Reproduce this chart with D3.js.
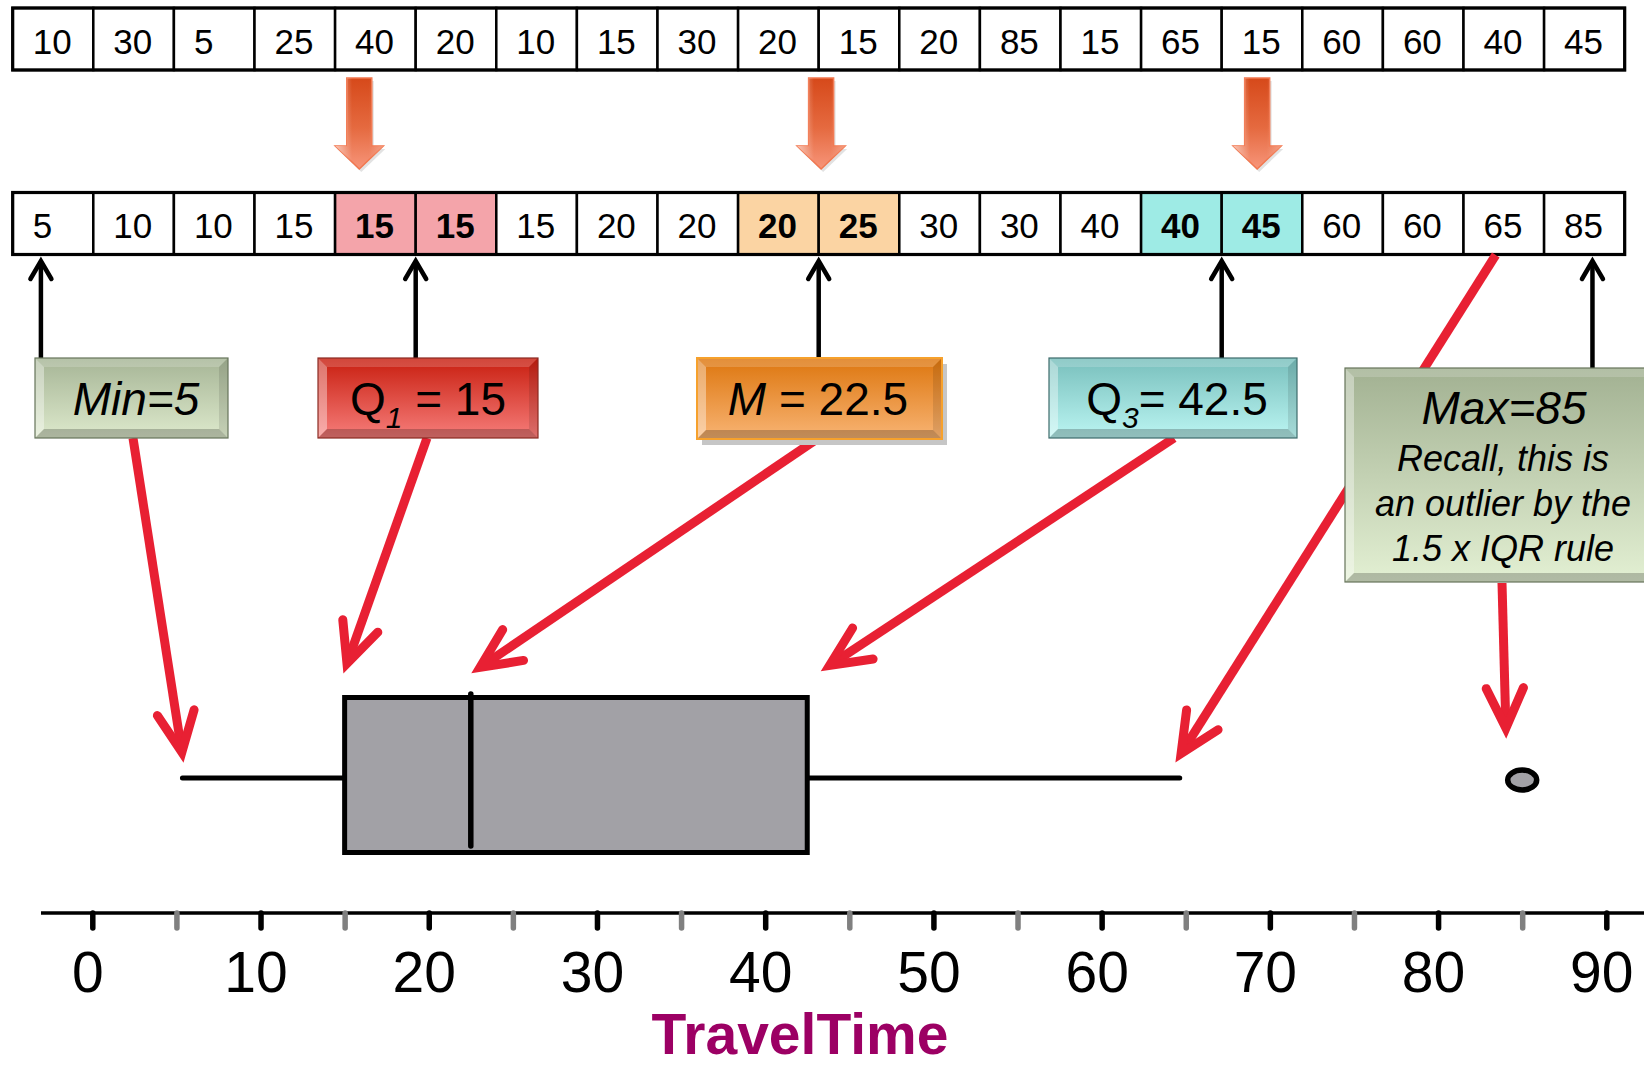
<!DOCTYPE html>
<html><head><meta charset="utf-8">
<script src="https://cdn.jsdelivr.net/npm/d3@7"></script>
<style>html,body{margin:0;padding:0;background:#fff;overflow:hidden}svg{display:block}</style>
</head><body>
<svg id="chart" width="1644" height="1066"></svg>
<script>
// ---------------- data ----------------
const travelTimes = [10,30,5,25,40,20,10,15,30,20,15,20,85,15,65,15,60,60,40,45];
const sortedTimes = [5,10,10,15,15,15,15,20,20,20,25,30,30,40,40,45,60,60,65,85];
const highlightPairs = [[4,5],[9,10],[14,15]];
const statNames = ["Min","Q1","M","Q3","Max"];
const statValues = [5,15,22.5,42.5,85];
const statRanks = [0.35,5,10,15,19.6];      // where each statistic sits in the ordered row (cell units)
const downArrowRanks = [4.3,10.03,15.44];   // orange arrows between the rows (cell units)
const whiskerHigh = 65;
const outliers = [85];
const majorTicks = [0,10,20,30,40,50,60,70,80,90];
const minorTicks = [5,15,25,35,45,55,65,75,85];
const axisTitle = "TravelTime";
const maxNote = ["Recall, this is","an outlier by the","1.5 x IQR rule"];

// ---------------- setup ----------------
const svg = d3.select("#chart");
const FONT = "'Liberation Sans', Arial, Helvetica, sans-serif";
const defs = svg.append("defs");

const cell = d3.scaleBand().domain(d3.range(travelTimes.length)).range([12.7, 1624.7]).padding(0);
const cw = cell.bandwidth();
const cellPos = r => cell.range()[0] + r * cw;
const x = d3.scaleLinear().domain([0, 90]).range([92.3, 1606.3]);

const hlColors = ["#f4a4aa", "#fbd4a3", "#9eebe5"];
function hlIndex(i){ return highlightPairs.findIndex(p => p.includes(i)); }

// ---------------- rows ----------------
function drawRow(values, y0, highlight){
  const g = svg.append("g");
  const h = 62;
  g.selectAll("rect.c").data(values).join("rect")
    .attr("x", (d,i) => cell(i)).attr("y", y0).attr("width", cw).attr("height", h)
    .attr("fill", (d,i) => { const k = highlight ? hlIndex(i) : -1; return k >= 0 ? hlColors[k] : "#fff"; })
    .attr("stroke", "#000").attr("stroke-width", 2.5);
  g.append("rect").attr("x", cell(0)).attr("y", y0).attr("width", cw*values.length).attr("height", h)
    .attr("fill", "none").attr("stroke", "#000").attr("stroke-width", 3.2);
  g.selectAll("text").data(values).join("text")
    .attr("x", (d,i) => cell(i) + 20).attr("y", y0 + 45.5)
    .attr("font-family", FONT).attr("font-size", 35)
    .attr("font-weight", (d,i) => highlight && hlIndex(i) >= 0 ? "bold" : "normal")
    .attr("fill", "#000").text(d => d);
}
drawRow(travelTimes, 8, false);

// orange block arrows
const og = defs.append("linearGradient").attr("id","oarrow").attr("x1",0).attr("y1",0).attr("x2",0).attr("y2",1);
og.append("stop").attr("offset","0%").attr("stop-color","#d6491a");
og.append("stop").attr("offset","55%").attr("stop-color","#e56a40");
og.append("stop").attr("offset","100%").attr("stop-color","#f7957a");
const oh = defs.append("linearGradient").attr("id","ohl").attr("x1",0).attr("y1",0).attr("x2",1).attr("y2",0);
oh.append("stop").attr("offset","0%").attr("stop-color","#fff").attr("stop-opacity",0.55);
oh.append("stop").attr("offset","35%").attr("stop-color","#fff").attr("stop-opacity",0);
oh.append("stop").attr("offset","70%").attr("stop-color","#fff").attr("stop-opacity",0);
oh.append("stop").attr("offset","100%").attr("stop-color","#fff").attr("stop-opacity",0.25);
downArrowRanks.forEach(r => {
  const cx = cellPos(r);
  const pts = [[cx-12.5,78],[cx+12.5,78],[cx+12.5,146],[cx+24,146],[cx,169],[cx-24,146],[cx-12.5,146]];
  const p = "M" + pts.map(q => q.join(",")).join("L") + "Z";
  svg.append("path").attr("d", p).attr("transform","translate(2,3)").attr("fill","#cfcfcf").attr("opacity",0.6);
  svg.append("path").attr("d", p).attr("fill","url(#oarrow)").attr("stroke","#f2774f").attr("stroke-width",1.5);
  svg.append("path").attr("d", p).attr("fill","url(#ohl)");
});

drawRow(sortedTimes, 192.5, true);

// black up arrows
statRanks.forEach((r, i) => {
  const ax = cellPos(r);
  const yBottom = i === 4 ? 368 : 358;
  const g = svg.append("g").attr("stroke","#000").attr("fill","none").attr("stroke-width",4.5);
  g.append("line").attr("x1", ax).attr("x2", ax).attr("y1", 262).attr("y2", yBottom);
  g.append("path").attr("d", `M${ax-10.5},${279}L${ax},${261}L${ax+10.5},${279}`)
    .attr("stroke-linecap","round").attr("stroke-linejoin","miter");
});

// ---------------- axis ----------------
const axisY = 913;
svg.append("line").attr("x1", x(-3.05)).attr("x2", 1644).attr("y1", axisY).attr("y2", axisY)
  .attr("stroke","#000").attr("stroke-width",3.4);
const minorG = svg.append("g").attr("transform",`translate(0,${axisY})`)
  .call(d3.axisBottom(x).tickValues(minorTicks).tickSize(15).tickFormat(""));
minorG.select(".domain").remove();
minorG.selectAll(".tick line").attr("stroke","#808080").attr("stroke-width",5.5).attr("stroke-linecap","round");
const majorG = svg.append("g").attr("transform",`translate(0,${axisY})`)
  .call(d3.axisBottom(x).tickValues(majorTicks).tickSize(15).tickFormat(d3.format("d")));
majorG.select(".domain").remove();
majorG.attr("font-family", FONT).attr("font-size", 57);
majorG.selectAll(".tick line").attr("stroke","#000").attr("stroke-width",5.5).attr("stroke-linecap","round");
majorG.selectAll(".tick text").attr("y", 79).attr("dy", 0).attr("dx", -5).attr("fill","#000");

svg.append("text").attr("x", 800).attr("y", 1054).attr("text-anchor","middle")
  .attr("font-family", FONT).attr("font-weight","bold").attr("font-size", 57)
  .attr("fill","#9c0064").text(axisTitle);

// ---------------- box plot ----------------
const whiskerY = 778, boxTop = 697.5, boxBot = 852.5;
const bp = svg.append("g");
bp.append("line").attr("x1", x(statValues[0]) + 6).attr("x2", x(statValues[1])).attr("y1", whiskerY).attr("y2", whiskerY)
  .attr("stroke","#000").attr("stroke-width",5).attr("stroke-linecap","round");
bp.append("line").attr("x1", x(statValues[3])).attr("x2", x(whiskerHigh) - 6).attr("y1", whiskerY).attr("y2", whiskerY)
  .attr("stroke","#000").attr("stroke-width",5).attr("stroke-linecap","round");
bp.append("rect").attr("x", x(statValues[1])).attr("y", boxTop)
  .attr("width", x(statValues[3]) - x(statValues[1])).attr("height", boxBot - boxTop)
  .attr("fill","#a2a1a6").attr("stroke","#000").attr("stroke-width",5);
bp.append("line").attr("x1", x(statValues[2])).attr("x2", x(statValues[2])).attr("y1", 694).attr("y2", 846)
  .attr("stroke","#000").attr("stroke-width",5.5).attr("stroke-linecap","round");
bp.selectAll("ellipse").data(outliers).join("ellipse")
  .attr("cx", d => x(d)).attr("cy", 780).attr("rx", 14.5).attr("ry", 10)
  .attr("fill","#a2a1a6").attr("stroke","#000").attr("stroke-width",5.5);

// ---------------- red arrows ----------------
function redArrow(x1, y1, x2, y2){
  const dx = x2-x1, dy = y2-y1, len = Math.hypot(dx,dy), ux = dx/len, uy = dy/len;
  const vx = x2 - ux*10, vy = y2 - uy*10; // vertex (miter extends to target)
  const L = 44, th = 25*Math.PI/180, bx = -ux, by = -uy;
  const rot = t => [vx + L*(bx*Math.cos(t) - by*Math.sin(t)), vy + L*(bx*Math.sin(t) + by*Math.cos(t))];
  const a1 = rot(th), a2 = rot(-th);
  const g = svg.append("g").attr("stroke","#e82033").attr("fill","none").attr("stroke-width",9);
  g.append("line").attr("x1", x1).attr("y1", y1).attr("x2", vx - ux*3).attr("y2", vy - uy*3).attr("stroke-linecap","butt");
  g.append("path").attr("d", `M${a1[0]},${a1[1]}L${vx},${vy}L${a2[0]},${a2[1]}`)
    .attr("stroke-linecap","round").attr("stroke-linejoin","miter").attr("stroke-miterlimit",10);
}
redArrow(133, 438, x(statValues[0]) + 7, 762);
redArrow(427, 438, x(statValues[1]) - 1, 673);
redArrow(817, 439, x(statValues[2]) + 1, 673);
redArrow(1174, 438, x(statValues[3]) + 14, 671);
redArrow(cellPos(18.4), 255, x(whiskerHigh) - 10, 762);
redArrow(1502, 583, x(outliers[0]) - 16, 738);

// ---------------- label boxes ----------------
const boxes = [
  {x:35,  y:358, w:193, h:80,  top:"#a6b596", bot:"#dde9cc", border:"#66745a"},
  {x:318, y:358, w:220, h:80,  top:"#c81e0f", bot:"#f67d7a", border:"#8a2a22"},
  {x:697, y:358, w:245, h:81,  top:"#dd760e", bot:"#f8b474", border:"#f6a12c", shadow:true},
  {x:1049,y:358, w:248, h:80,  top:"#78bfbc", bot:"#bbf5f2", border:"#3d6b6b"},
  {x:1345,y:368, w:318, h:214, top:"#a2b192", bot:"#e3f0d3", border:"#66745a"}
];
boxes.forEach((b, i) => {
  const gid = "bg" + i;
  const lg = defs.append("linearGradient").attr("id", gid).attr("x1",0).attr("y1",0).attr("x2",0).attr("y2",1);
  lg.append("stop").attr("offset","0%").attr("stop-color", b.top);
  lg.append("stop").attr("offset","100%").attr("stop-color", b.bot);
  const g = svg.append("g");
  if (b.shadow) g.append("rect").attr("x", b.x+5).attr("y", b.y+6).attr("width", b.w).attr("height", b.h).attr("fill","#c6c6c6");
  g.append("rect").attr("x", b.x).attr("y", b.y).attr("width", b.w).attr("height", b.h).attr("fill", `url(#${gid})`);
  const bv = 9, X = b.x, Y = b.y, W = b.w, H = b.h;
  const poly = (pts, fill, op) => g.append("path").attr("d","M"+pts.map(p=>p.join(",")).join("L")+"Z").attr("fill",fill).attr("opacity",op);
  poly([[X,Y],[X+W,Y],[X+W-bv,Y+bv],[X+bv,Y+bv]], "#fff", 0.18);
  poly([[X,Y],[X+bv,Y+bv],[X+bv,Y+H-bv],[X,Y+H]], "#fff", 0.38);
  poly([[X+W,Y],[X+W,Y+H],[X+W-bv,Y+H-bv],[X+W-bv,Y+bv]], "#000", 0.10);
  poly([[X,Y+H],[X+bv,Y+H-bv],[X+W-bv,Y+H-bv],[X+W,Y+H]], "#000", 0.22);
  g.append("rect").attr("x", b.x).attr("y", b.y).attr("width", b.w).attr("height", b.h)
    .attr("fill","none").attr("stroke", b.border).attr("stroke-width", b.shadow ? 2 : 1.2);
});

function label(cx, cy, parts, size){
  const t = svg.append("text").attr("x", cx).attr("y", cy).attr("text-anchor","middle")
    .attr("font-family", FONT).attr("font-size", size).attr("fill","#000");
  parts.forEach(p => {
    const ts = t.append("tspan").text(p.t);
    if (p.i) ts.attr("font-style","italic");
    if (p.s) ts.attr("font-size", p.s);
    if (p.dy) ts.attr("dy", p.dy);
  });
  return t;
}
label(136, 415, [{t: statNames[0] + "=" + statValues[0], i:true}], 46);
label(428, 415, [{t:"Q"}, {t:"1", i:true, s:30, dy:13}, {t:" = " + statValues[1], dy:-13}], 46);
label(818, 415, [{t: statNames[2], i:true}, {t:" = " + statValues[2]}], 46);
label(1177, 415, [{t:"Q"}, {t:"3", i:true, s:30, dy:13}, {t:"= " + statValues[3], dy:-13}], 46);
label(1504, 424, [{t: statNames[4] + "=" + statValues[4], i:true}], 46);
maxNote.forEach((line, k) => {
  label(1503, 471 + k*45, [{t: line, i:true}], 36);
});
</script>
</body></html>
